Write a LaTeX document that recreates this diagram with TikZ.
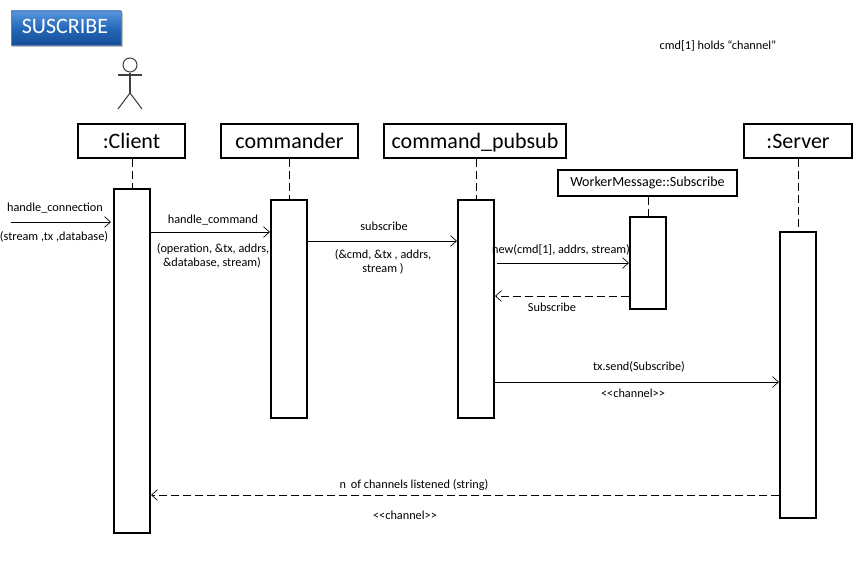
\documentclass[tikz,border=0pt]{standalone}
\usepackage{fontspec}
\setmainfont{Carlito}
\usetikzlibrary{arrows.meta,shadows}
\definecolor{btop}{RGB}{88,150,222}
\definecolor{bmid}{RGB}{38,105,185}
\definecolor{bbot}{RGB}{22,78,150}
\tikzset{
  x=0.75pt,y=-0.75pt,
  headbox/.style={draw=black,line width=1.5pt,fill=white,minimum height=25.5pt,inner sep=0pt,text height=12.5pt,text depth=1.5pt,font=\fontsize{16.5}{18}\selectfont},
  bar/.style={draw=black,line width=1.5pt,fill=white,minimum width=27pt,inner sep=0pt},
  lifeline/.style={draw=black,line width=0.75pt,dash pattern=on 6pt off 3pt},
  msg/.style={draw=black,line width=0.75pt,-{Straight Barb[length=4.5pt,width=8pt,line width=0.5pt]}},
  ret/.style={msg,dash pattern=on 6pt off 3pt},
  lbl/.style={font=\fontsize{9.2}{11}\selectfont,inner sep=0pt,text=black},
  actorline/.style={draw=black!75,line width=0.8pt},
}
\begin{document}
\begin{tikzpicture}
\useasboundingbox (0,0) rectangle (860,581);
\fill[white] (0,0) rectangle (860,581);
% title button
\fill[black!25] (12,13) rectangle (123,47);
\node[minimum width=82.5pt,minimum height=25.5pt,inner sep=0pt,top color=btop,bottom color=bbot,middle color=bmid,text=white,font=\fontsize{16.5}{18}\selectfont,draw=bbot!70,line width=0.3pt,text height=11pt,text depth=3pt] (title) at (66,28) {\hspace*{-1.5pt}SUSCRIBE};
% actor
\node[circle,draw=black!75,line width=0.8pt,fill=white,minimum size=10.5pt,inner sep=0pt] (head) at (130,65) {};
\coordinate (hip) at (130,93);
\coordinate (armL) at (118,75);
\coordinate (armR) at (142,75);
\coordinate (footL) at (118,109);
\coordinate (footR) at (142,109);
\draw[actorline] (head) -- (hip);
\draw[actorline] (armL) -- (armR);
\draw[actorline] (footL) -- (hip) -- (footR);
% heads
\node[headbox,minimum width=80.25pt] (hclient) at (131.5,141) {:Client};
\node[headbox,minimum width=102.75pt] (hcomm) at (289.5,141) {commander};
\node[headbox,minimum width=136.5pt] (hpub) at (475,141) {command\_pubsub};
\node[headbox,minimum width=81pt] (hserver) at (798,141) {:Server};
\node[draw=black,line width=1.5pt,fill=white,minimum width=134.25pt,minimum height=19.5pt,inner sep=0pt,font=\fontsize{10.5}{12}\selectfont] (hworker) at (647.5,183) {WorkerMessage::Subscribe};
% activation bars
\node[bar,minimum height=258pt] (client) at (132,361) {};
\node[bar,minimum height=163.5pt] (comm) at (289,309) {};
\node[bar,minimum height=163.5pt] (pub) at (476,309) {};
\node[bar,minimum height=69pt] (worker) at (648,263) {};
\node[bar,minimum height=214.5pt] (server) at (798,375) {};
% lifelines
\draw[lifeline] (hclient.south -| client.north) -- (client.north);
\draw[lifeline] (hcomm.south -| comm.north) -- (comm.north);
\draw[lifeline] (hpub.south -| pub.north) -- (pub.north);
\draw[lifeline] (hserver.south -| server.north) -- (server.north);
\draw[lifeline] (hworker.south -| worker.north) -- (worker.north);
% messages
\coordinate (entry) at (11,222);
\draw[msg,shorten >=1.5pt] (entry) -- (client.west |- entry);
\draw[msg] (client.east |- 0,232) -- (comm.west |- 0,232);
\draw[msg] (comm.east |- 0,241) -- (pub.west |- 0,241);
\coordinate (newstart) at (497,263);
\draw[msg] (newstart) -- (worker.west |- newstart);
\draw[ret] (worker.west |- 0,296) -- (pub.east |- 0,296);
\draw[msg] (pub.east |- 0,382) -- (server.west |- 0,382);
\draw[ret] (server.west |- 0,495) -- (client.east |- 0,495);
% labels
\node[lbl] (l1) at (55,208) {handle\_connection};
\node[lbl] (l2) at (54,237) {(stream ,tx ,database)};
\node[lbl] (l3) at (213,220) {handle\_command};
\node[lbl] (l4) at (213,249) {(operation, \&tx, addrs,};
\node[lbl] (l5) at (212,263) {\&database, stream)};
\node[lbl] (l6) at (384,226) {subscribe};
\node[lbl] (l7) at (383,255) {(\&cmd, \&tx , addrs,};
\node[lbl] (l8) at (383,269) {stream )};
\node[lbl] (l9) at (561,250) {new(cmd[1], addrs, stream)};
\node[lbl] (l10) at (552,307) {Subscribe};
\node[lbl] (l11) at (639,367) {tx.send(Subscribe)};
\node[lbl] (l12) at (633,393) {<{}<channel>{}>};
\node[lbl] (l13) at (414,485) {n\, of channels listened (string)};
\node[lbl] (l14) at (405,515) {<{}<channel>{}>};
\node[lbl] (l15) at (718,46) {cmd[1] holds “channel”};
\end{tikzpicture}
\end{document}
